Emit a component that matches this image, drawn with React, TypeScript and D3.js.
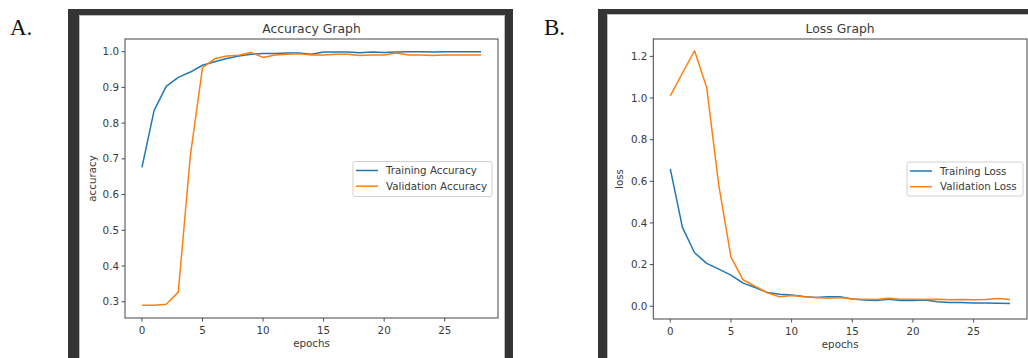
import React from "react";
import * as d3 from "d3";

const epochs = d3.range(0, 29);

const trainAcc = [0.676, 0.835, 0.903, 0.928, 0.943, 0.962, 0.972, 0.981, 0.988, 0.993, 0.995, 0.995, 0.996, 0.996, 0.993, 0.999, 0.999, 0.999, 0.997, 0.999, 0.998, 0.999, 1.0, 1.0, 0.999, 1.0, 1.0, 1.0, 1.0];
const valAcc = [0.29, 0.29, 0.293, 0.327, 0.71, 0.955, 0.98, 0.988, 0.99, 0.998, 0.984, 0.991, 0.993, 0.994, 0.991, 0.991, 0.993, 0.993, 0.989, 0.991, 0.991, 0.996, 0.991, 0.991, 0.989, 0.991, 0.991, 0.991, 0.991];

const trainLoss = [0.66, 0.379, 0.257, 0.206, 0.178, 0.149, 0.111, 0.09, 0.066, 0.058, 0.054, 0.047, 0.042, 0.045, 0.046, 0.035, 0.03, 0.027, 0.033, 0.028, 0.027, 0.03, 0.022, 0.018, 0.018, 0.015, 0.015, 0.014, 0.013];
const valLoss = [1.01, 1.12, 1.227, 1.05, 0.58, 0.236, 0.127, 0.095, 0.065, 0.045, 0.052, 0.045, 0.042, 0.038, 0.042, 0.035, 0.033, 0.032, 0.038, 0.033, 0.033, 0.032, 0.033, 0.031, 0.032, 0.031, 0.032, 0.037, 0.032];

const xTicks = [0, 5, 10, 15, 20, 25];
const accTicks = [0.3, 0.4, 0.5, 0.6, 0.7, 0.8, 0.9, 1.0];
const lossTicks = [0.0, 0.2, 0.4, 0.6, 0.8, 1.0, 1.2];

const BLUE = "#1f77b4";
const ORANGE = "#ff7f0e";
const INK = "#3a3a3a";
const FONT = "DejaVu Sans, sans-serif";

type PanelProps = {
  letter: string;
  letterX: number;
  frameX: number;
  frameW: number;
  innerX: number;
  innerW: number;
  innerTop: number;
  plot: { x0: number; x1: number; y0: number; y1: number };
  yDomain: [number, number];
  yTicks: number[];
  yFmt: (v: number) => string;
  series: { name: string; values: number[]; color: string }[];
  title: string;
  yLabel: string;
  yLabelX: number;
  legend: { x: number; y: number; w: number; h: number };
};

function Panel(p: PanelProps) {
  const x = d3.scaleLinear().domain([-1.4, 29.4]).range([p.plot.x0, p.plot.x1]);
  const y = d3.scaleLinear().domain(p.yDomain).range([p.plot.y1, p.plot.y0]);
  const line = (vals: number[]) =>
    d3.line<number>().x((_, i) => x(epochs[i])).y((v) => y(v))(vals) || "";
  const cx = (p.plot.x0 + p.plot.x1) / 2;
  const cy = (p.plot.y0 + p.plot.y1) / 2;
  return (
    <g>
      <text x={p.letterX} y={35} fontFamily="Liberation Serif, Times New Roman, serif" fontSize={23} fill="#111">
        {p.letter}
      </text>
      <rect x={p.frameX} y={9} width={p.frameW} height={360} fill="#353535" />
      <rect x={p.innerX} y={p.innerTop} width={p.innerW} height={360} fill="#fff" stroke="#bdbdbd" strokeWidth={1} />
      <text x={cx} y={33} textAnchor="middle" fontFamily={FONT} fontSize={12.4} fill={INK}>
        {p.title}
      </text>
      <g fontFamily={FONT} fontSize={10.3} fill={INK}>
        {p.yTicks.map((t) => (
          <g key={t}>
            <line x1={p.plot.x0 - 3.5} x2={p.plot.x0} y1={y(t)} y2={y(t)} stroke={INK} strokeWidth={0.9} />
            <text x={p.plot.x0 - 6} y={y(t)} dy="0.35em" textAnchor="end">
              {p.yFmt(t)}
            </text>
          </g>
        ))}
        {xTicks.map((t) => (
          <g key={t}>
            <line x1={x(t)} x2={x(t)} y1={p.plot.y1} y2={p.plot.y1 + 3.5} stroke={INK} strokeWidth={0.9} />
            <text x={x(t)} y={p.plot.y1 + 15.5} textAnchor="middle">
              {t}
            </text>
          </g>
        ))}
        <text x={cx} y={p.plot.y1 + 29} textAnchor="middle">
          epochs
        </text>
        <text transform={`translate(${p.yLabelX},${cy}) rotate(-90)`} textAnchor="middle">
          {p.yLabel}
        </text>
      </g>
      {p.series.map((s) => (
        <path key={s.name} d={line(s.values)} fill="none" stroke={s.color} strokeWidth={1.5} strokeLinejoin="round" />
      ))}
      <rect
        x={p.plot.x0}
        y={p.plot.y0}
        width={p.plot.x1 - p.plot.x0}
        height={p.plot.y1 - p.plot.y0}
        fill="none"
        stroke="#444"
        strokeWidth={1}
      />
      <rect
        x={p.legend.x}
        y={p.legend.y}
        width={p.legend.w}
        height={p.legend.h}
        rx={2}
        fill="#fff"
        fillOpacity={0.85}
        stroke="#d0d0d0"
        strokeWidth={1}
      />
      {p.series.map((s, i) => {
        const ly = p.legend.y + 9 + i * 15.7;
        return (
          <g key={s.name}>
            <line x1={p.legend.x + 3} x2={p.legend.x + 25} y1={ly} y2={ly} stroke={s.color} strokeWidth={1.5} />
            <text x={p.legend.x + 33} y={ly} dy="0.35em" fontFamily={FONT} fontSize={10.3} fill={INK}>
              {s.name}
            </text>
          </g>
        );
      })}
    </g>
  );
}

export default function App() {
  return (
    <svg width={1028} height={358} style={{ position: "absolute", left: 0, top: 0, background: "#fff" }}>
      <rect x={0} y={0} width={1028} height={358} fill="#fff" />
      <Panel
        letter="A."
        letterX={10}
        frameX={68}
        frameW={445}
        innerX={79.5}
        innerW={425}
        innerTop={15.5}
        plot={{ x0: 125, x1: 498, y0: 39, y1: 318 }}
        yDomain={[0.2545, 1.0355]}
        yTicks={accTicks}
        yFmt={d3.format(".1f")}
        series={[
          { name: "Training Accuracy", values: trainAcc, color: BLUE },
          { name: "Validation Accuracy", values: valAcc, color: ORANGE },
        ]}
        title="Accuracy Graph"
        yLabel="accuracy"
        yLabelX={96}
        legend={{ x: 353, y: 161.5, w: 139, h: 35 }}
      />
      <Panel
        letter="B."
        letterX={544}
        frameX={598}
        frameW={450}
        innerX={607.5}
        innerW={440}
        innerTop={14.5}
        plot={{ x0: 653.3, x1: 1027, y0: 39, y1: 319 }}
        yDomain={[-0.0614, 1.2834]}
        yTicks={lossTicks}
        yFmt={d3.format(".1f")}
        series={[
          { name: "Training Loss", values: trainLoss, color: BLUE },
          { name: "Validation Loss", values: valLoss, color: ORANGE },
        ]}
        title="Loss Graph"
        yLabel="loss"
        yLabelX={623}
        legend={{ x: 907, y: 162, w: 116, h: 34 }}
      />
    </svg>
  );
}
